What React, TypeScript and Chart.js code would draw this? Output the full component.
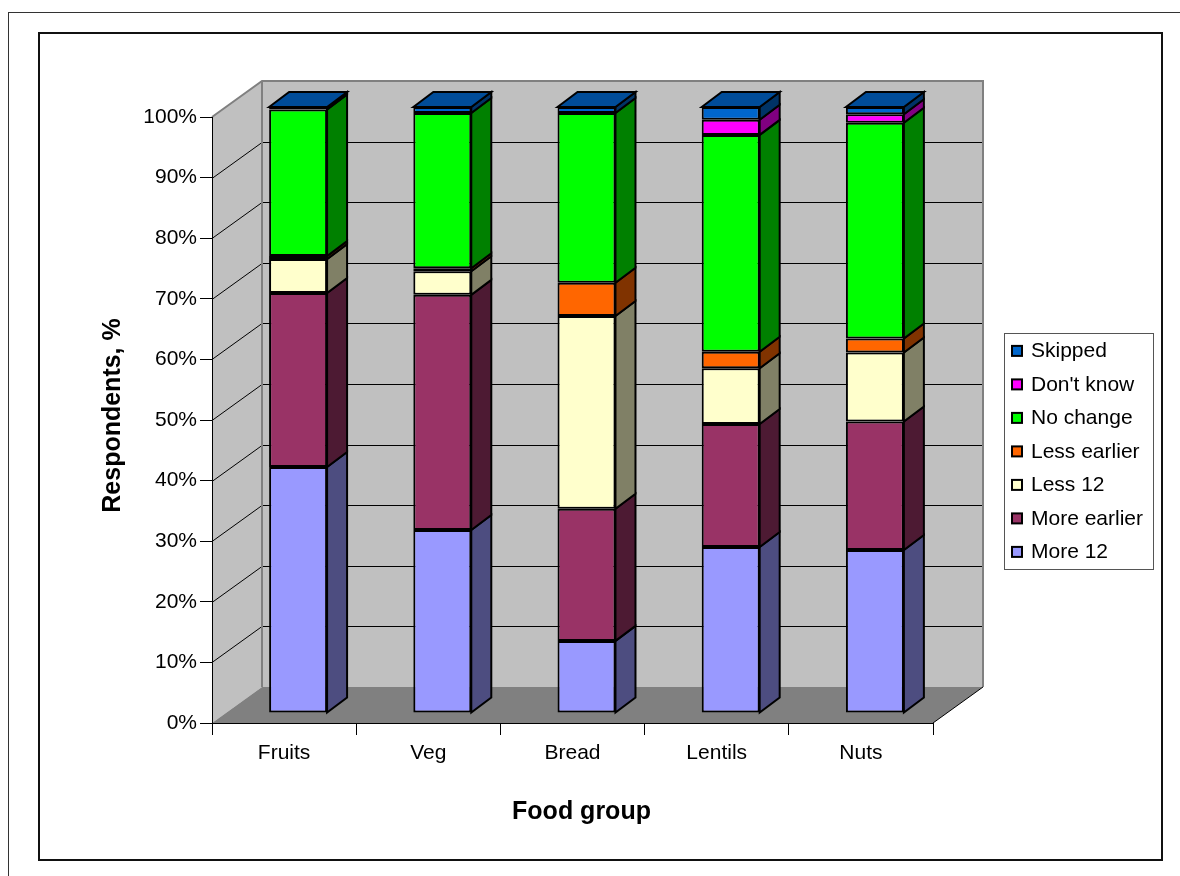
import React, { useEffect, useRef } from "react";
import { Chart, registerables } from "chart.js";

Chart.register(...registerables);

// ---------- data ----------
const categories = ["Fruits", "Veg", "Bread", "Lentils", "Nuts"];
const more12 = [40.6, 30.2, 11.9, 27.4, 26.9];
const moreEarlier = [28.7, 38.8, 21.8, 20.3, 21.2];
const less12 = [5.6, 3.9, 31.8, 9.2, 11.4];
const lessEarlier = [0.5, 0.5, 5.5, 2.7, 2.3];
const noChange = [24.2, 25.6, 28.0, 35.8, 35.6];
const dontKnow = [0, 0, 0, 2.5, 1.4];
const skipped = [0.4, 1.0, 1.0, 2.1, 1.2];
const yTickValues = [0, 10, 20, 30, 40, 50, 60, 70, 80, 90, 100];

const seriesNames = ["More 12", "More earlier", "Less 12", "Less earlier", "No change", "Don't know", "Skipped"];
const seriesValues = [more12, moreEarlier, less12, lessEarlier, noChange, dontKnow, skipped];
const seriesColors = ["#9999FF", "#993366", "#FFFFCC", "#FF6600", "#00FF00", "#FF00FF", "#0066CC"];
const sideColors = ["#4D4D80", "#4D1A33", "#808066", "#803300", "#008000", "#800080", "#003366"];
const topColors = ["#7373BF", "#73264D", "#BFBF99", "#BF4D00", "#00BF00", "#BF00BF", "#004C99"];

const xTitle = "Food group";
const yTitle = "Respondents, %";

// ---------- styling / geometry ----------
const FONT = "'Liberation Sans', Arial, Helvetica, sans-serif";
const WALL_DX = 50;
const WALL_DY = -36;
const BAR_SHIFT_X = 14;
const BAR_SHIFT_Y = -10;
const BAR_DX = 20;
const BAR_DY = -15;

function poly(ctx: CanvasRenderingContext2D, pts: number[][], fill?: string, stroke?: string, lw = 1) {
  ctx.beginPath();
  ctx.moveTo(pts[0][0], pts[0][1]);
  for (let i = 1; i < pts.length; i++) ctx.lineTo(pts[i][0], pts[i][1]);
  ctx.closePath();
  if (fill) {
    ctx.fillStyle = fill;
    ctx.fill();
  }
  if (stroke) {
    ctx.strokeStyle = stroke;
    ctx.lineWidth = lw;
    ctx.lineJoin = "miter";
    ctx.stroke();
  }
}

const scenePlugin = {
  id: "scene3d",
  beforeDraw(chart: any) {
    const ctx: CanvasRenderingContext2D = chart.ctx;
    const ca = chart.chartArea;
    const ys = chart.scales.y;
    const y0 = ys.getPixelForValue(0);
    const y100 = ys.getPixelForValue(100);
    const L = ca.left;
    const R = ca.right;
    const DX = WALL_DX;
    const DY = WALL_DY;
    ctx.save();
    // side wall
    poly(ctx, [[L, y100], [L + DX, y100 + DY], [L + DX, y0 + DY], [L, y0]], "#C0C0C0");
    // back wall
    poly(ctx, [[L + DX, y100 + DY], [R + DX, y100 + DY], [R + DX, y0 + DY], [L + DX, y0 + DY]], "#C0C0C0");
    // floor
    poly(ctx, [[L, y0], [L + DX, y0 + DY], [R + DX, y0 + DY], [R, y0]], "#808080");
    // gridlines
    ctx.strokeStyle = "#000";
    ctx.lineWidth = 1;
    for (const v of yTickValues) {
      if (v === 0 || v === 100) continue;
      const py = Math.round(ys.getPixelForValue(v)) + 0.5;
      ctx.beginPath();
      ctx.moveTo(L, py);
      ctx.lineTo(L + DX, py + DY);
      ctx.lineTo(R + DX, py + DY);
      ctx.stroke();
    }
    // wall borders
    ctx.strokeStyle = "#808080";
    ctx.lineWidth = 2;
    ctx.beginPath();
    ctx.moveTo(L, y100);
    ctx.lineTo(L + DX, y100 + DY);
    ctx.lineTo(R + DX, y100 + DY);
    ctx.lineTo(R + DX, y0 + DY);
    ctx.moveTo(L + DX, y100 + DY);
    ctx.lineTo(L + DX, y0 + DY);
    ctx.stroke();
    // floor right edge
    ctx.strokeStyle = "#000";
    ctx.lineWidth = 1;
    ctx.beginPath();
    ctx.moveTo(R, y0);
    ctx.lineTo(R + DX, y0 + DY);
    ctx.stroke();
    ctx.restore();
  },
  beforeDatasetsDraw(chart: any) {
    chart.ctx.save();
    chart.ctx.translate(BAR_SHIFT_X, BAR_SHIFT_Y);
  },
  afterDatasetsDraw(chart: any) {
    const ctx: CanvasRenderingContext2D = chart.ctx;
    const n = chart.data.datasets.length;
    const topIdx: number[] = categories.map((_, j) => {
      let t = -1;
      for (let i = 0; i < n; i++) if ((chart.data.datasets[i].data[j] as number) > 0) t = i;
      return t;
    });
    for (let i = 0; i < n; i++) {
      const meta = chart.getDatasetMeta(i);
      meta.data.forEach((el: any, j: number) => {
        const v = chart.data.datasets[i].data[j] as number;
        if (!(v > 0)) return;
        const p = el.getProps(["x", "y", "base", "width"], true);
        const right = p.x + p.width / 2;
        poly(ctx, [[right, p.y], [right + BAR_DX, p.y + BAR_DY], [right + BAR_DX, p.base + BAR_DY], [right, p.base]], sideColors[i], "#000", 2);
      });
    }
    categories.forEach((_, j) => {
      const i = topIdx[j];
      if (i < 0) return;
      const el = chart.getDatasetMeta(i).data[j];
      const p = el.getProps(["x", "y", "base", "width"], true);
      const left = p.x - p.width / 2;
      const right = p.x + p.width / 2;
      poly(ctx, [[left, p.y], [left + BAR_DX, p.y + BAR_DY], [right + BAR_DX, p.y + BAR_DY], [right, p.y]], topColors[i], "#000", 2);
    });
    ctx.restore();
  },
  afterDraw(chart: any) {
    const ctx: CanvasRenderingContext2D = chart.ctx;
    ctx.save();
    // axis titles
    ctx.fillStyle = "#000";
    ctx.font = `bold 25px ${FONT}`;
    ctx.textAlign = "center";
    ctx.textBaseline = "alphabetic";
    ctx.fillText(xTitle, 581.5, 819);
    ctx.save();
    ctx.translate(119.5, 415.5);
    ctx.rotate(-Math.PI / 2);
    ctx.fillText(yTitle, 0, 0);
    ctx.restore();
    // legend
    ctx.strokeStyle = "#555";
    ctx.lineWidth = 1;
    ctx.strokeRect(1004.5, 333.5, 149, 236);
    ctx.font = `21px ${FONT}`;
    ctx.textAlign = "left";
    const ds = chart.data.datasets;
    for (let k = 0; k < ds.length; k++) {
      const i = ds.length - 1 - k;
      const cy = 350.9 + k * 33.5;
      ctx.fillStyle = ds[i].backgroundColor;
      ctx.fillRect(1012, cy - 5, 10, 10);
      ctx.strokeStyle = "#000";
      ctx.lineWidth = 2;
      ctx.strokeRect(1012, cy - 5, 10, 10);
      ctx.fillStyle = "#000";
      ctx.fillText(ds[i].label, 1031, cy + 6.5);
    }
    ctx.restore();
  },
};

export default function App() {
  const ref = useRef<HTMLCanvasElement | null>(null);
  useEffect(() => {
    if (!ref.current) return;
    Chart.defaults.font.family = FONT;
    const chart = new Chart(ref.current, {
      type: "bar",
      data: {
        labels: categories,
        datasets: seriesNames.map((name, i) => ({
          label: name,
          data: seriesValues[i],
          backgroundColor: seriesColors[i],
          borderColor: "#000",
          borderWidth: 2,
          borderSkipped: false,
          barPercentage: 0.402,
          categoryPercentage: 1,
          clip: false as any,
        })),
      },
      options: {
        responsive: false,
        animation: false,
        layout: { padding: { left: 60, right: 247, top: 117, bottom: 0 } },
        plugins: {
          legend: { display: false },
          tooltip: { enabled: false },
          title: { display: false },
        },
        scales: {
          x: {
            stacked: true,
            grid: { offset: true, drawOnChartArea: false, drawTicks: true, tickLength: 12, color: "#000" },
            border: { display: true, color: "#000", width: 1 },
            ticks: { color: "#000", font: { size: 21, family: FONT }, padding: 6, autoSkip: false, maxRotation: 0 },
            afterFit: (s: any) => {
              s.height = 153;
            },
          },
          y: {
            stacked: true,
            min: 0,
            max: 100,
            grid: { drawOnChartArea: false, drawTicks: true, tickLength: 12, color: "#000" },
            border: { display: true, color: "#000", width: 1 },
            ticks: {
              color: "#000",
              font: { size: 21, family: FONT },
              padding: 3,
              callback: (v: any) => `${v}%`,
            },
            afterBuildTicks: (s: any) => {
              s.ticks = yTickValues.map((v) => ({ value: v }));
            },
            afterFit: (s: any) => {
              s.width = 152;
            },
          },
        },
      },
      plugins: [scenePlugin],
    });
    return () => chart.destroy();
  }, []);

  return (
    <div style={{ position: "absolute", left: 0, top: 0, width: 1180, height: 876, overflow: "hidden", background: "#fff" }}>
      <div
        style={{
          position: "absolute",
          left: 8,
          top: 12,
          width: 1300,
          height: 1000,
          borderLeft: "1px solid #333",
          borderTop: "1px solid #333",
        }}
      />
      <div
        style={{
          position: "absolute",
          left: 38,
          top: 32,
          width: 1125,
          height: 829,
          boxSizing: "border-box",
          border: "2px solid #111",
        }}
      />
      <canvas ref={ref} width={1180} height={876} style={{ position: "absolute", left: 0, top: 0, width: 1180, height: 876 }} />
    </div>
  );
}
